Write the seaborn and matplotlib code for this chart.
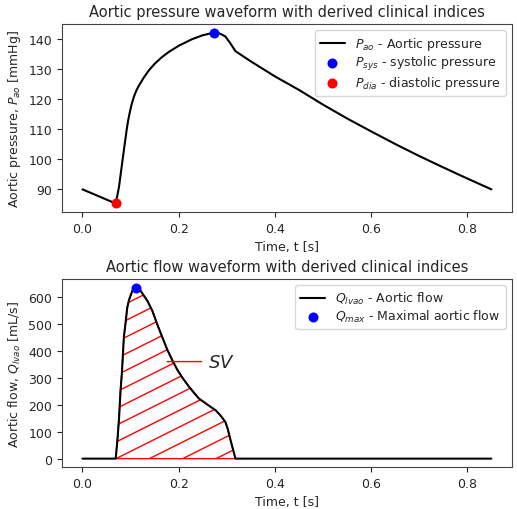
import numpy as np
import pandas as pd
import matplotlib
matplotlib.use("Agg")
import matplotlib.pyplot as plt
import matplotlib.hatch as mhatch
from matplotlib.path import Path
from matplotlib.ticker import MultipleLocator
import seaborn as sns

# ---------------- data ----------------
t_p = [0.0, 0.069, 0.072, 0.076, 0.080, 0.085, 0.089, 0.092, 0.0947, 0.098,
       0.102, 0.107, 0.112, 0.1175, 0.127, 0.138, 0.150, 0.165, 0.180, 0.200,
       0.228, 0.250, 0.274, 0.285, 0.297, 0.307, 0.318, 0.350, 0.400, 0.450,
       0.500, 0.550, 0.600, 0.650, 0.700, 0.750, 0.800, 0.850]
p_ao = [90.0, 85.3, 87.6, 90.9, 95.8, 101.8, 106.5, 110.0, 112.7, 115.4,
        118.2, 120.9, 122.9, 124.6, 127.1, 129.6, 131.8, 134.0, 135.8, 137.8,
        140.0, 141.3, 142.2, 141.9, 140.9, 138.7, 136.0, 132.6, 127.6, 123.1,
        118.2, 113.6, 109.3, 105.1, 101.1, 97.3, 93.6, 90.0]
t_sys, p_sys = [0.274], [142.2]
t_dia, p_dia = [0.069], [85.3]

t_q = [0.0, 0.069, 0.0726, 0.076, 0.079, 0.082, 0.086, 0.090, 0.093, 0.097,
       0.104, 0.112, 0.118, 0.124, 0.135, 0.145, 0.155, 0.166, 0.176, 0.187,
       0.197, 0.207, 0.220, 0.230, 0.242, 0.260, 0.277, 0.287, 0.297, 0.302,
       0.307, 0.312, 0.318, 0.850]
q_lvao = [0, 0, 68, 150, 250, 320, 450, 510, 560, 590,
          624, 634, 630, 614, 585, 549, 500, 450, 405, 364,
          330, 302, 270, 248, 223, 200, 179, 160, 136, 110,
          74, 40, 0, 0]
t_qmax, q_max = [0.112], [634]
sv_label = "$SV$"

# ------------- custom shallow hatch ('/') -------------
class ShallowNorthEastHatch(mhatch.HatchPatternBase):
    def __init__(self, hatch, density):
        n = int(hatch.count('/') * density)
        self.offsets = np.arange(-n // 2, n + 1) / n if n else np.array([])
        self.num_vertices = 2 * len(self.offsets)

    def set_vertices_and_codes(self, vertices, codes):
        c = self.offsets
        vertices[0::2, 0] = 0.0
        vertices[0::2, 1] = c
        vertices[1::2, 0] = 1.0
        vertices[1::2, 1] = c + 0.5
        codes[0::2] = Path.MOVETO
        codes[1::2] = Path.LINETO

mhatch._hatch_types[:] = [ShallowNorthEastHatch if h is mhatch.NorthEastHatch else h
                          for h in mhatch._hatch_types]

# ---------------- style ----------------
sns.set_style("ticks")
plt.rcParams['font.family'] = ['DejaVu Sans']
plt.rcParams['hatch.color'] = 'red'
plt.rcParams.update({
    'font.size': 9, 'axes.titlesize': 10.5, 'axes.labelsize': 9,
    'xtick.labelsize': 9, 'ytick.labelsize': 9, 'legend.fontsize': 9,
    'axes.edgecolor': '#444444',
    'xtick.major.size': 3.5, 'ytick.major.size': 3.5,
})

fig, (ax1, ax2) = plt.subplots(2, 1, figsize=(5.17, 5.10), dpi=100)
fig.subplots_adjust(left=0.120, right=0.990, top=0.951, bottom=0.082, hspace=0.357)

dfp = pd.DataFrame({"t": t_p, "p": p_ao})
sns.lineplot(data=dfp, x="t", y="p", ax=ax1, color="black", lw=1.5,
             label="$P_{ao}$ - Aortic pressure", estimator=None)
sns.scatterplot(x=t_sys, y=p_sys, ax=ax1, color="blue", s=52, linewidth=0,
                label="$P_{sys}$ - systolic pressure", zorder=3)
sns.scatterplot(x=t_dia, y=p_dia, ax=ax1, color="red", s=52, linewidth=0,
                label="$P_{dia}$ - diastolic pressure", zorder=3)
ax1.set_title("Aortic pressure waveform with derived clinical indices")
ax1.set_xlabel("Time, t [s]")
ax1.set_ylabel("Aortic pressure, $P_{ao}$ [mmHg]")
ax1.yaxis.set_major_locator(MultipleLocator(10))
ax1.legend(loc="upper right", labelspacing=0.15)

dfq = pd.DataFrame({"t": t_q, "q": q_lvao})
sys_mask = (dfq["t"] >= 0.069) & (dfq["t"] <= 0.318)
ax2.fill_between(dfq["t"][sys_mask], dfq["q"][sys_mask], 0, hatch='/',
                 facecolor='none', edgecolor='red', linewidth=1.0, zorder=1)
sns.lineplot(data=dfq, x="t", y="q", ax=ax2, color="black", lw=1.5,
             label="$Q_{lvao}$ - Aortic flow", estimator=None, zorder=2)
sns.scatterplot(x=t_qmax, y=q_max, ax=ax2, color="blue", s=52, linewidth=0,
                label="$Q_{max}$ - Maximal aortic flow", zorder=3)
ax2.annotate(sv_label, xy=(0.17, 360), xytext=(0.26, 360), fontsize=13,
             va="center", arrowprops=dict(arrowstyle="-", color="red", lw=1.0))
ax2.set_title("Aortic flow waveform with derived clinical indices")
ax2.set_xlabel("Time, t [s]")
ax2.set_ylabel("Aortic flow, $Q_{lvao}$ [mL/s]")
ax2.yaxis.set_major_locator(MultipleLocator(100))
ax2.legend(loc="upper right", labelspacing=0.15)

for ax in (ax1, ax2):
    ax.set_xticks([0.0, 0.2, 0.4, 0.6, 0.8])

fig.savefig("out.png", dpi=100)
